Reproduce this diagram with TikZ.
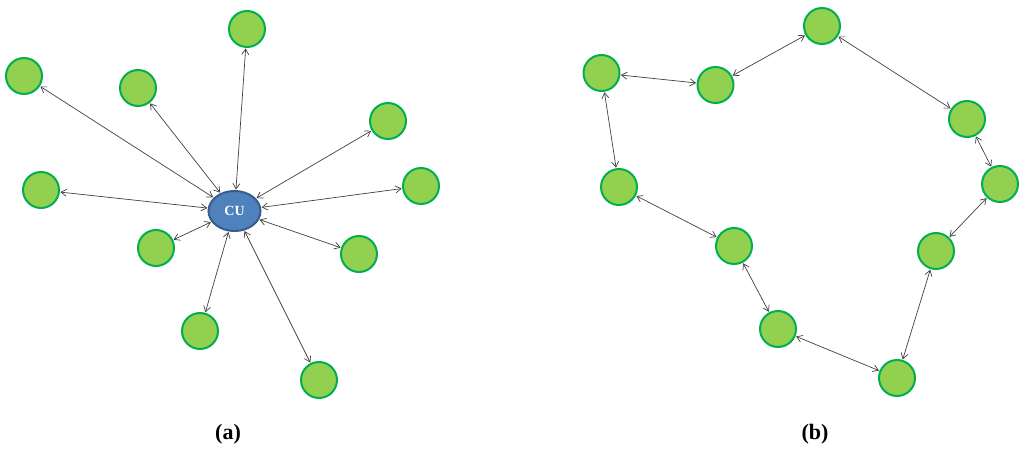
\documentclass[tikz,border=0pt]{standalone}
\usepackage{fontspec}
\setmainfont{Liberation Serif}
\usetikzlibrary{arrows.meta,shapes.geometric}
\definecolor{gfill}{HTML}{92D050}
\definecolor{gdraw}{HTML}{00B050}
\definecolor{cufill}{HTML}{4F81BD}
\definecolor{cudraw}{HTML}{385D8A}
\definecolor{edgec}{HTML}{404040}
\tikzset{
  gnode/.style={circle,draw=gdraw,fill=gfill,line width=2pt,minimum size=36pt,inner sep=0pt},
  cunode/.style={ellipse,draw=cudraw,fill=cufill,line width=2pt,minimum width=52pt,minimum height=40pt,inner sep=0pt,text=white,font=\bfseries\fontsize{14}{14}\selectfont},
  link/.style={draw=edgec,line width=0.7pt,{Straight Barb[length=5.5pt,width=7pt]}-{Straight Barb[length=5.5pt,width=7pt]},shorten <=0.5pt,shorten >=0.5pt},
  lab/.style={font=\bfseries\fontsize{22}{22}\selectfont}
}
\begin{document}
\begin{tikzpicture}[x=1pt,y=-1pt]
\useasboundingbox (0,0) rectangle (1024,454);
% (a)
\node[cunode] (cu) at (234.5,211) {CU};
\node[gnode] (a1) at (247,29) {};
\node[gnode] (a2) at (24,76) {};
\node[gnode] (a3) at (138,88) {};
\node[gnode] (a4) at (388,121) {};
\node[gnode] (a5) at (41,190) {};
\node[gnode] (a6) at (421,186) {};
\node[gnode] (a7) at (156,248) {};
\node[gnode] (a8) at (359,254) {};
\node[gnode] (a9) at (200,331) {};
\node[gnode] (a10) at (319,380) {};
\foreach \n in {a1,a2,a3,a4,a5,a6,a7,a8,a9,a10}{\draw[link] (cu) -- (\n);}
% (b)
\node[gnode] (b1) at (822,26) {};
\node[gnode] (b2) at (601.5,73) {};
\node[gnode] (b3) at (715.5,85) {};
\node[gnode] (b4) at (967,119) {};
\node[gnode] (b5) at (619,187) {};
\node[gnode] (b6) at (1000,184) {};
\node[gnode] (b7) at (734,246) {};
\node[gnode] (b8) at (936,251) {};
\node[gnode] (b9) at (778,329) {};
\node[gnode] (b10) at (897,378) {};
\draw[link] (b2) -- (b3);
\draw[link] (b3) -- (b1);
\draw[link] (b1) -- (b4);
\draw[link] (b4) -- (b6);
\draw[link] (b6) -- (b8);
\draw[link] (b8) -- (b10);
\draw[link] (b10) -- (b9);
\draw[link] (b9) -- (b7);
\draw[link] (b7) -- (b5);
\draw[link] (b5) -- (b2);
\node[lab] (la) at (228,434) {(a)};
\node[lab] (lb) at (815,434) {(b)};
\end{tikzpicture}
\end{document}
